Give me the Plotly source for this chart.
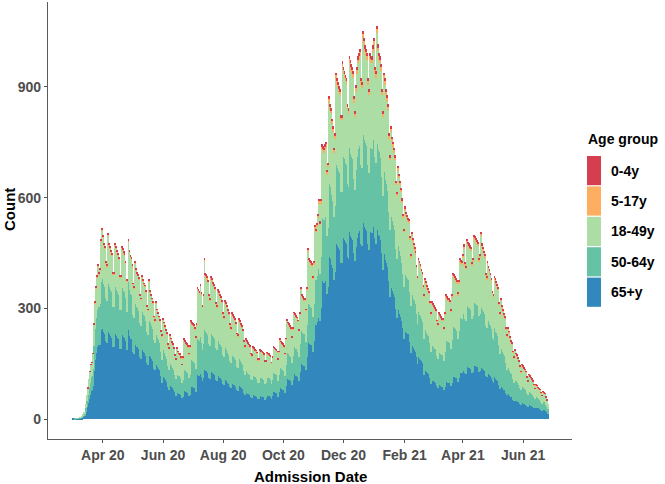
import pandas as pd
import plotly.graph_objects as go

START_DATE = "2020-03-01"

# Daily admissions by age group, one line per week (Sun..Sat)
age_65 = [
0,1,1,0,1,1,1, 1,2,3,4,6,9,10, 20,33,43,55,65,75,78, 90,130,160,180,195,210,200,
201,240,255,245,235,230,211, 206,247,235,230,225,221,196, 196,235,230,225,221,216,191,
191,230,228,223,221,211,186, 186,240,225,218,216,206,181, 176,211,201,196,194,189,167,
162,191,186,181,179,172,152, 147,186,172,167,162,157,137, 132,157,147,142,137,132,118,
99,118,114,110,105,101,88, 80,94,90,86,84,80,72, 63,74,70,68,68,65,57,
60,77,75,74,72,70,63, 66,89,87,86,85,83,74, 86,119,117,116,122,114,102,
112,145,132,130,129,125,112, 109,129,127,124,122,119,106, 102,117,116,112,111,107,96,
92,107,106,102,99,96,86, 83,96,94,92,91,87,78, 76,91,89,86,84,81,71,
66,73,71,69,68,66,59, 58,65,64,63,62,60,54, 54,63,62,61,60,59,53,
56,64,63,62,62,60,54, 63,73,72,71,70,68,61, 72,85,83,81,80,78,70,
90,112,109,107,105,103,92, 105,123,121,118,117,113,103, 128,158,150,147,145,145,132,
169,219,207,204,202,200,183, 211,260,255,262,274,294,265, 300,375,373,370,375,378,340,
357,449,439,434,418,408,377, 398,482,474,469,464,459,423, 423,499,490,485,479,474,439,
434,506,500,495,490,485,449, 428,465,490,505,510,515,474, 469,541,530,520,515,510,474,
459,510,506,505,520,530,490, 475,537,511,500,495,485,450, 403,454,446,432,424,413,374,
331,368,354,348,340,331,299, 273,304,295,286,277,265,246, 218,244,237,234,231,230,210,
180,204,198,192,188,183,168, 148,167,163,160,156,152,139, 119,135,131,128,125,123,112,
96,106,104,102,100,99,89, 83,93,91,90,88,88,80, 87,102,101,99,99,98,90,
99,116,115,113,112,110,100, 110,128,126,125,131,138,125, 122,143,141,139,138,136,125,
128,146,145,144,142,141,128, 131,148,139,136,133,131,116, 113,125,122,119,116,112,102,
99,113,112,109,107,104,93, 81,92,87,84,80,78,70, 64,70,67,63,60,59,52,
48,53,50,49,47,45,41, 39,45,44,42,41,39,35, 34,39,38,36,35,34,30,
29,32,31,30,29,27,24, 23,26,25,25,21,18,15,
]

age_50_64 = [
0,0,0,1,1,0,0, 1,1,1,2,3,5,5, 10,17,22,29,34,39,40, 47,68,83,94,101,109,104,
111,132,140,135,130,127,116, 113,136,130,127,124,122,108, 108,130,127,124,122,119,105,
105,127,126,123,122,116,103, 103,132,124,120,119,113,100, 97,116,111,108,107,104,92,
89,105,103,100,99,95,84, 81,103,95,92,89,86,76, 73,86,81,78,76,73,65,
62,74,72,69,66,63,55, 53,62,59,57,55,53,47, 45,53,50,49,48,46,41,
46,59,58,57,55,54,49, 54,73,72,71,70,68,61, 70,97,96,95,100,93,84,
92,119,108,107,105,103,92, 89,105,104,101,100,97,86, 84,96,95,92,90,88,78,
76,88,86,84,81,78,70, 68,78,77,76,74,72,63, 62,74,73,71,69,66,58,
54,59,58,57,55,54,49, 47,53,53,51,51,49,45, 45,51,50,50,49,48,43,
43,49,49,48,48,46,42, 44,51,51,50,49,48,43, 48,57,55,54,53,52,47,
57,71,69,68,66,65,59, 65,76,75,73,72,70,64, 75,94,88,87,86,86,78,
86,112,106,104,103,102,94, 101,125,122,126,132,141,127, 138,173,171,170,173,174,156,
161,202,198,196,189,184,170, 179,218,214,212,209,207,191, 191,225,221,219,216,214,198,
196,228,225,223,221,219,202, 193,210,221,228,230,232,214, 212,244,239,235,232,230,214,
207,230,228,228,235,239,221, 219,247,235,230,228,223,207, 202,227,223,216,212,206,187,
180,200,193,189,185,180,163, 161,179,174,169,164,157,146, 140,157,153,151,149,148,135,
126,143,139,134,132,128,118, 109,123,120,118,115,112,102, 99,112,109,106,104,102,93,
87,96,95,93,91,90,81, 81,90,88,87,86,85,78, 96,112,111,109,109,107,99,
116,136,134,133,131,129,117, 129,150,148,147,153,162,146, 143,168,165,163,162,160,146,
150,171,170,168,167,165,150, 153,174,163,160,156,153,136, 133,147,143,139,136,131,119,
116,133,131,128,126,122,109, 96,109,102,99,95,92,83, 69,75,72,68,64,63,56,
51,57,54,53,50,48,44, 39,45,44,42,41,39,35, 31,37,35,34,33,31,29,
25,28,28,26,25,24,22, 19,23,22,21,18,16,13,
]

age_18_49 = [
0,0,0,0,0,1,0, 0,1,1,2,3,4,5, 10,14,18,25,29,33,34, 40,58,71,80,87,94,89,
91,109,116,111,106,104,95, 93,113,106,104,103,99,89, 89,106,104,103,99,97,87,
87,104,102,101,99,95,85, 85,109,102,99,97,93,83, 81,95,91,89,87,85,75,
73,87,84,83,81,77,68, 66,84,77,75,73,71,62, 60,71,66,65,62,60,53,
64,77,73,70,68,66,57, 57,69,66,62,61,57,52, 53,63,60,58,57,54,49,
59,78,76,73,73,71,63, 74,100,98,97,95,92,84, 96,134,132,130,137,129,115,
127,164,149,147,145,141,127, 123,145,143,139,137,134,119, 115,132,130,127,125,121,108,
104,121,119,115,112,108,96, 92,108,106,104,102,98,88, 86,102,100,97,94,92,80,
74,82,80,78,76,74,67, 65,74,72,71,70,68,61, 61,71,70,69,68,66,60,
56,64,63,63,61,61,55, 59,69,67,66,66,64,57, 60,71,69,68,67,65,59,
68,83,81,79,78,76,69, 74,87,86,85,83,81,72, 81,100,94,93,91,91,84,
96,124,116,116,114,112,104, 107,132,130,134,140,149,134, 146,183,182,181,183,185,166,
164,206,200,198,192,187,174, 183,222,218,215,213,211,195, 195,228,224,221,221,218,200,
197,232,229,226,224,221,206, 198,212,224,231,234,237,218, 215,247,244,239,237,234,218,
211,234,232,231,239,244,224, 231,261,250,244,241,236,220, 214,241,237,229,224,218,199,
190,211,203,199,196,190,171, 170,189,183,178,173,164,153, 149,164,160,158,155,155,142,
132,150,145,141,137,135,123, 123,139,136,133,128,126,114, 114,128,125,121,119,115,107,
99,110,108,107,105,103,93, 89,99,98,95,94,94,86, 99,116,113,113,112,110,103,
115,136,134,132,130,129,118, 129,149,148,146,153,162,146, 142,167,164,163,160,160,146,
149,172,170,168,166,164,149, 153,175,163,160,157,153,136, 132,146,142,140,136,130,119,
115,132,130,128,126,124,108, 105,119,111,108,104,102,89, 90,97,94,87,83,81,72,
66,75,71,68,66,62,55, 48,55,52,52,49,48,42, 37,42,41,40,39,37,33,
28,32,30,28,28,27,24, 21,24,23,22,19,16,14,
]

age_5_17 = [
0,0,0,0,0,0,0, 0,0,0,0,0,0,0, 0,0,1,0,1,1,1, 1,1,2,2,2,2,2,
2,3,3,3,3,3,3, 3,3,3,3,3,3,2, 2,3,3,3,3,3,2,
2,3,3,3,3,3,2, 2,3,3,3,3,3,2, 2,3,2,2,2,2,2,
2,2,2,2,2,2,2, 2,2,2,2,2,2,2, 2,2,2,2,2,2,1,
2,2,2,2,2,2,2, 2,2,2,2,2,2,1, 1,2,2,2,2,2,1,
2,2,2,2,2,2,2, 2,3,3,3,3,2,2, 3,4,4,3,4,3,3,
3,4,4,4,4,4,3, 3,4,4,4,4,4,3, 3,4,3,3,3,3,3,
3,3,3,3,3,3,3, 2,3,3,3,3,3,2, 2,3,3,3,3,2,2,
2,2,2,2,2,2,2, 2,2,2,2,2,2,2, 2,2,2,2,2,2,1,
2,2,2,2,2,2,1, 1,2,2,2,2,2,1, 2,2,2,2,2,2,1,
2,2,2,2,2,2,2, 2,2,2,2,2,2,2, 2,3,3,3,3,3,2,
3,4,4,4,4,4,3, 4,5,5,5,5,6,5, 6,7,7,7,7,7,7,
7,9,9,8,8,8,7, 8,9,9,9,9,9,8, 8,10,10,10,9,9,9,
9,10,10,10,10,10,9, 8,9,10,10,10,10,9, 9,11,10,10,10,10,9,
9,10,10,10,10,10,10, 10,11,10,10,10,10,9, 8,9,9,9,9,9,8,
7,8,8,8,7,7,7, 6,7,7,7,6,6,6, 5,6,6,6,6,5,5,
5,5,5,5,5,5,4, 4,4,4,4,4,4,4, 3,4,4,4,4,4,3,
3,3,3,3,3,3,3, 3,3,3,3,3,3,2, 3,4,4,4,4,4,3,
4,5,5,5,5,5,4, 5,5,5,5,5,6,5, 5,6,6,6,6,6,5,
5,6,6,6,6,6,5, 5,6,6,6,6,5,5, 5,5,5,5,5,5,4,
4,5,5,5,4,4,4, 3,4,4,4,3,3,3, 3,3,3,3,3,3,2,
2,2,2,2,2,2,2, 2,2,2,2,2,2,1, 1,2,2,2,1,1,1,
1,1,1,1,1,1,1, 1,1,1,1,1,1,0,
]

age_0_4 = [
0,0,0,0,0,0,0, 0,0,0,0,0,0,0, 0,0,1,0,1,1,1, 1,2,2,2,3,3,3,
3,3,3,3,3,3,3, 3,3,3,3,3,3,3, 3,3,3,3,3,3,3,
3,3,3,3,3,3,2, 2,3,3,3,3,3,2, 2,3,3,3,3,3,2,
2,3,3,2,2,2,2, 2,3,2,2,2,2,2, 2,2,2,2,2,2,2,
2,2,2,2,2,2,2, 2,2,2,2,2,2,2, 2,2,2,2,2,2,1,
2,2,2,2,2,2,2, 2,3,3,3,3,3,2, 3,3,3,3,4,3,3,
3,4,4,4,4,4,3, 3,4,4,4,4,3,3, 3,3,3,3,3,3,3,
3,3,3,3,3,3,3, 3,3,3,3,3,3,2, 2,3,3,3,3,2,2,
2,2,2,2,2,2,2, 2,2,2,2,2,2,2, 2,2,2,2,2,2,2,
2,2,2,2,2,2,2, 2,2,2,2,2,2,2, 2,2,2,2,2,2,2,
2,2,2,2,2,2,2, 2,2,2,2,2,2,2, 2,3,3,3,3,3,2,
3,4,4,4,4,4,3, 4,4,4,4,5,6,5, 6,7,7,7,7,7,6,
6,8,8,8,7,7,7, 7,8,8,8,8,8,7, 7,9,8,8,8,8,8,
8,9,9,9,8,8,8, 7,8,8,9,9,9,8, 8,9,9,9,9,9,8,
8,9,9,9,9,9,8, 8,9,9,9,9,9,8, 7,8,8,8,8,8,7,
7,7,7,7,7,7,6, 6,6,6,6,6,6,5, 4,5,5,5,5,5,4,
4,4,4,4,4,4,4, 3,4,4,4,4,3,3, 3,3,3,3,3,3,3,
3,3,3,3,3,3,2, 2,3,3,3,3,3,2, 3,3,3,3,3,3,3,
3,4,4,4,4,4,3, 4,4,4,4,4,5,4, 4,5,5,5,5,4,4,
4,5,5,5,5,5,4, 4,5,5,4,4,4,4, 4,4,4,4,4,4,3,
3,4,4,4,4,3,3, 3,3,3,3,3,3,3, 2,3,2,2,2,2,2,
2,2,2,2,2,2,2, 1,2,2,2,1,1,1, 1,1,1,1,1,1,1,
1,1,1,1,1,1,1, 1,1,1,1,1,1,0,
]

groups = ["65+y", "50-64y", "18-49y", "5-17y", "0-4y"]
colors = ["#3288BD", "#66C2A5", "#ABDDA4", "#FDAE61", "#D53E4F"]
series = [age_65, age_50_64, age_18_49, age_5_17, age_0_4]

tick_dates = ["2020-04-01", "2020-06-01", "2020-08-01", "2020-10-01",
              "2020-12-01", "2021-02-01", "2021-04-01", "2021-06-01"]
tick_labels = ["Apr 20", "Jun 20", "Aug 20", "Oct 20",
               "Dec 20", "Feb 21", "Apr 21", "Jun 21"]
y_ticks = [0, 300, 600, 900]

n = len(age_65)
for s in series:
    assert len(s) == n, len(s)
dates = pd.date_range(START_DATE, periods=n, freq="D")

W, H = 665, 484
L, R, T, B = 48, 93, 2, 45
PW, PH = W - L - R, H - T - B

fig = go.Figure()
for name, col, vals in zip(groups, colors, series):
    fig.add_trace(go.Bar(x=dates, y=vals, name=name, marker=dict(color=col, line=dict(width=0)),
                         showlegend=False))

FONT = "Liberation Sans"
axis_col = "#4D4D4D"
pad = pd.Timedelta(days=24.6)
fig.update_layout(
    width=W, height=H, barmode="stack", bargap=0.1,
    margin=dict(l=L, r=R, t=T, b=B, pad=0),
    plot_bgcolor="white", paper_bgcolor="white",
    font=dict(family=FONT),
    xaxis=dict(type="date", range=[dates[0] - pad, dates[-1] + pad],
               tickvals=tick_dates, ticktext=tick_labels,
               ticks="outside", ticklen=3, tickcolor="#555", tickwidth=1,
               showline=True, linecolor="#5a5a5a", linewidth=1.2,
               showgrid=False, zeroline=False,
               tickfont=dict(family=FONT, size=14, color=axis_col, weight="bold")),
    yaxis=dict(range=[-54, 1130], tickvals=y_ticks,
               ticks="outside", ticklen=3, tickcolor="#555", tickwidth=1,
               showline=True, linecolor="#5a5a5a", linewidth=1.2,
               showgrid=False, zeroline=False,
               tickfont=dict(family=FONT, size=14, color=axis_col, weight="bold")),
)

def px(xp):
    return (xp - L) / PW

def py(yp):
    return (H - B - yp) / PH

anns = [
    dict(text="Count", x=px(9), y=py(210), textangle=-90),
    dict(text="Admission Date", x=px(310), y=py(476)),
]
for a in anns:
    fig.add_annotation(xref="paper", yref="paper", showarrow=False,
                       xanchor="center", yanchor="middle",
                       font=dict(family=FONT, size=15, color="black", weight="bold"), **a)

# legend
fig.add_annotation(xref="paper", yref="paper", showarrow=False, text="Age group",
                   x=px(586), y=py(139), xanchor="left", yanchor="middle",
                   font=dict(family=FONT, size=14, color="black", weight="bold"))
key_top, key_h = 156, 30.4
for i, (name, col) in enumerate(zip(groups[::-1], colors[::-1])):
    y0 = key_top + i * key_h
    y1 = y0 + key_h - 1.2
    fig.add_shape(type="rect", xref="paper", yref="paper",
                  x0=px(587), x1=px(601), y0=py(y1), y1=py(y0),
                  fillcolor=col, line=dict(width=0))
    fig.add_annotation(xref="paper", yref="paper", showarrow=False, text=name,
                       x=px(609), y=py((y0 + y1) / 2), xanchor="left", yanchor="middle",
                       font=dict(family=FONT, size=14, color="black", weight="bold"))

fig.write_html("out.html", config={"displayModeBar": False},
               post_script="document.body.style.margin='0';document.body.style.padding='0';")
